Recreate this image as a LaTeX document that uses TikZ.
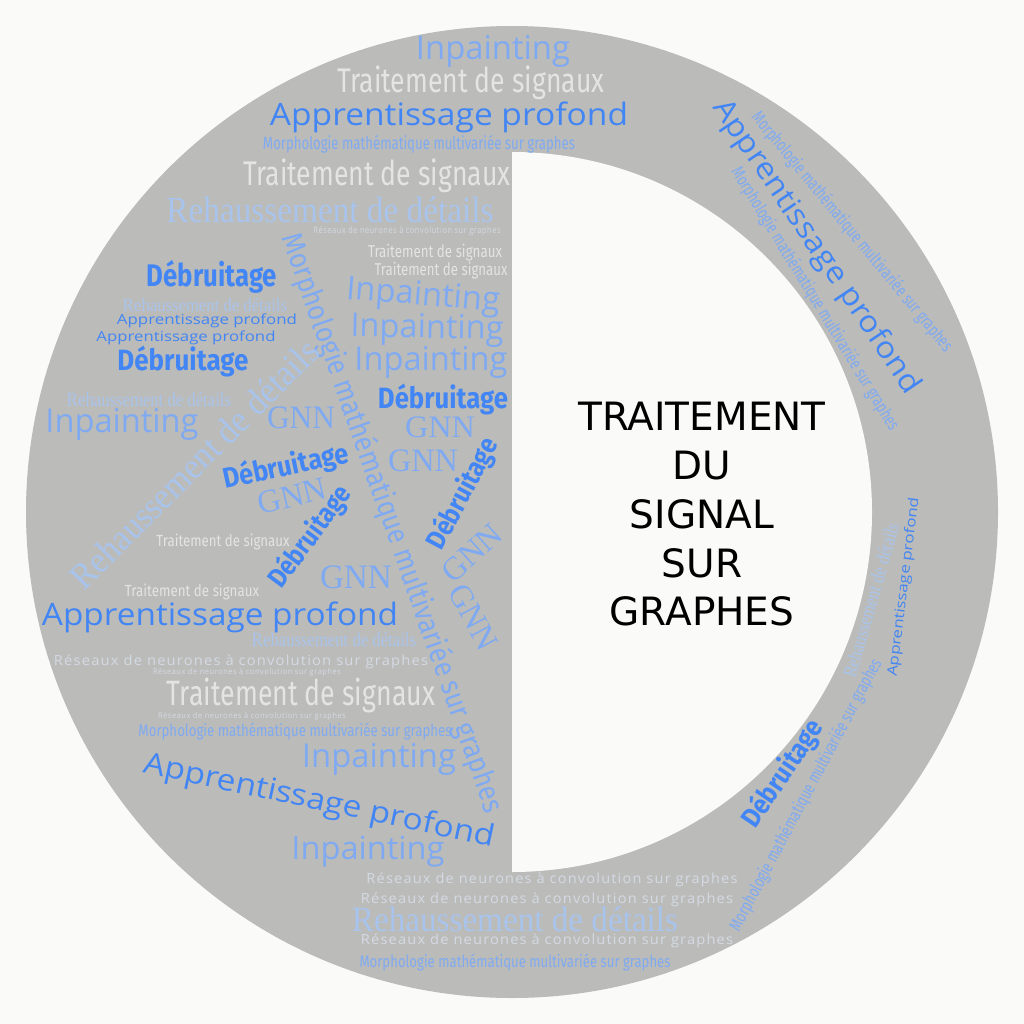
\documentclass[tikz,border=0pt]{standalone}
\usepackage{fontspec}
\usepackage{graphicx}
\setmainfont{DejaVu Sans}
\newfontfamily\fosw{Fira Sans}
\newfontfamily\fplay{Open Sans}
\newfontfamily\fres[LetterSpace=8]{Open Sans}
\newfontfamily\fser{Liberation Serif}
\newfontfamily\fcen{DejaVu Sans}
\definecolor{bgc}{HTML}{FAFAF8}
\definecolor{disk}{HTML}{BBBBB9}
\definecolor{tg}{HTML}{E4E4E4}
\definecolor{bl}{HTML}{4285F4}
\definecolor{lb}{HTML}{7FAAF2}
\definecolor{rb}{HTML}{A9C4EC}
\definecolor{rs}{HTML}{D4DAE4}
\newcommand\WB[4]{\resizebox*{#1pt}{#2pt}{#3#4}}
\newcommand\TS[2]{\WB{#1}{#2}{\fosw}{Traitement de signaux}}
\newcommand\AP[2]{\WB{#1}{#2}{\fplay}{Apprentissage profond}}
\newcommand\IP[2]{\WB{#1}{#2}{\fplay}{Inpainting}}
\newcommand\MO[2]{\WB{#1}{#2}{\fosw}{Morphologie mathématique multivariée sur graphes}}
\newcommand\RD[2]{\WB{#1}{#2}{\fser}{Rehaussement de détails}}
\newcommand\RN[2]{\WB{#1}{#2}{\fres}{Réseaux de neurones à convolution sur graphes}}
\newcommand\DB[2]{\WB{#1}{#2}{\fosw\bfseries}{Débruitage}}
\newcommand\GN[2]{\WB{#1}{#2}{\fser}{GNN}}
\tikzset{
  wd/.style={inner sep=0pt, outer sep=0pt, anchor=center},
  tgw/.style={wd, text=tg},
  blw/.style={wd, text=bl},
  lbw/.style={wd, text=lb},
  rbw/.style={wd, text=rb},
  rsw/.style={wd, text=rs},
  cen/.style={inner sep=0pt, anchor=base, text=black, font=\fcen\fontsize{39}{39}\selectfont}
}
\begin{document}
\begin{tikzpicture}[x=1pt,y=-1pt]
\useasboundingbox (0,0) rectangle (1024,1024);
\fill[bgc] (0,0) rectangle (1024,1024);
\fill[disk] (512,512) circle[radius=486];
\fill[bgc] (512,152) arc[start angle=-90, end angle=90, radius=360] -- cycle;
% big rotated words
\node[lbw, rotate=-70.5] (n27) at (392,523) {\MO{612}{30}};
\node[rbw, rotate=45] (n28) at (194,464) {\RD{335}{26}};
% top
\node[lbw] (n1) at (493,51) {\IP{154}{32}};
\node[tgw] (n2) at (471,83) {\TS{267}{34}};
\node[blw] (n3) at (449,117) {\AP{358}{31}};
\node[lbw] (n4) at (419,144) {\MO{312}{18}};
\node[tgw] (n5) at (377,176) {\TS{267}{34}};
\node[rbw] (n6) at (330,210) {\RD{327}{26}};
\node[rsw] (n7) at (407,231) {\RN{187}{9}};
\node[tgw] (n8) at (435,253) {\TS{134}{17}};
\node[tgw] (n9) at (441,271) {\TS{133}{17}};
\node[lbw, rotate=-4.5] (n10) at (423,297) {\IP{154}{32}};
\node[lbw, rotate=-1] (n11) at (427,330) {\IP{153}{32}};
\node[lbw] (n12) at (431,362) {\IP{153}{32}};
\node[blw] (n13) at (443,400) {\DB{130}{31}};
\node[lbw] (n14) at (440,427) {\GN{70}{21}};
\node[lbw] (n15) at (423,461) {\GN{70}{22}};
\node[blw, rotate=62] (n16) at (463,494) {\DB{122}{29}};
\node[lbw, rotate=42] (n17) at (472,553) {\GN{70}{22}};
\node[lbw, rotate=-62] (n18) at (473,617) {\GN{70}{22}};
% left
\node[blw] (n19) at (212,277) {\DB{130}{33}};
\node[rbw] (n20) at (205,305) {\RD{164}{13}};
\node[blw] (n21) at (207,321) {\AP{180}{14}};
\node[blw] (n22) at (186,338) {\AP{179}{14}};
\node[blw] (n23) at (183,362) {\DB{131}{31}};
\node[rbw] (n24) at (149,400) {\RD{164}{14}};
\node[lbw] (n25) at (122,424) {\IP{153}{32}};
\node[lbw] (n26) at (301,418) {\GN{68}{22}};
\node[blw, rotate=12] (n29) at (286,467) {\DB{128}{30}};
\node[lbw, rotate=13] (n30) at (292,496) {\GN{70}{22}};
\node[blw, rotate=53.5] (n31) at (310,537) {\DB{119}{29}};
\node[tgw] (n32) at (223,542) {\TS{133}{16}};
\node[lbw] (n33) at (356,577) {\GN{72}{23}};
\node[tgw] (n34) at (192,592) {\TS{134}{16}};
\node[blw] (n35) at (220,617) {\AP{356}{31}};
\node[rbw] (n36) at (334,640) {\RD{164}{14}};
\node[rsw] (n37) at (241,662) {\RN{374}{14}};
\node[rsw] (n38) at (247,672) {\RN{188}{8}};
\node[tgw] (n39) at (301,695) {\TS{268}{35}};
\node[rsw] (n40) at (252,716) {\RN{188}{8}};
\node[lbw] (n41) at (295,732) {\MO{313}{17}};
\node[lbw] (n42) at (379,759) {\IP{154}{32}};
\node[blw, rotate=-12] (n43) at (319,802) {\AP{358}{30}};
\node[lbw] (n44) at (368,852) {\IP{153}{31}};
% bottom
\node[rsw] (n45) at (552,880) {\RN{371}{14}};
\node[rsw] (n46) at (547,900) {\RN{372}{14}};
\node[rbw] (n47) at (515,919) {\RD{326}{25}};
\node[rsw] (n48) at (547,941) {\RN{372}{14}};
\node[lbw] (n49) at (515,963) {\MO{311}{17}};
% right ring
\node[blw, rotate=-56] (n50) at (816,247) {\AP{348}{30}};
\node[lbw, rotate=-50.5] (n51) at (852,232) {\MO{305}{18}};
\node[lbw, rotate=-58.5] (n52) at (815,299) {\MO{305}{18}};
\node[blw, rotate=83] (n53) at (904,587) {\AP{180}{14}};
\node[rbw, rotate=74] (n54) at (871,600) {\RD{160}{14}};
\node[lbw, rotate=62] (n55) at (806,795) {\MO{305}{18}};
\node[blw, rotate=56] (n56) at (783,774) {\DB{123}{29}};
% centre title
\node[cen] (c1) at (702,430) {TRAITEMENT};
\node[cen] (c2) at (702,479) {DU};
\node[cen] (c3) at (702,528) {SIGNAL};
\node[cen] (c4) at (702,577) {SUR};
\node[cen] (c5) at (702,625) {GRAPHES};
\end{tikzpicture}
\end{document}
